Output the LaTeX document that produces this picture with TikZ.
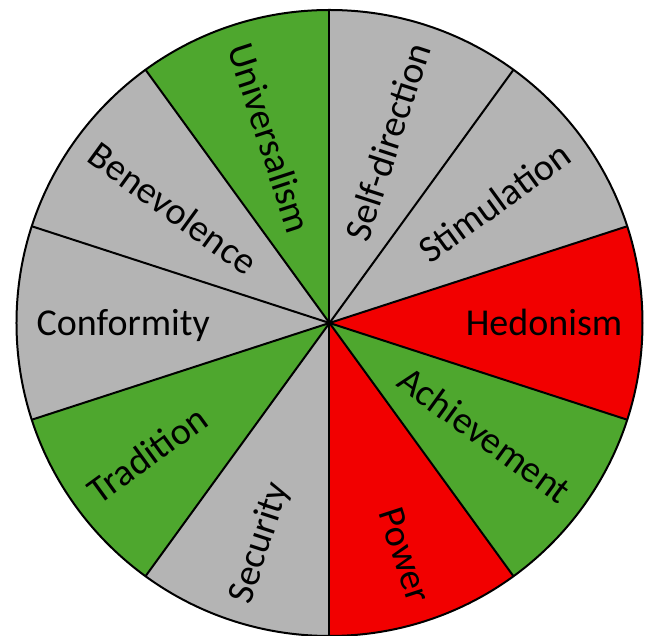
\documentclass[tikz,border=0pt]{standalone}
\usepackage{fontspec}
\setmainfont{Carlito}
\definecolor{sgray}{HTML}{B4B4B4}
\definecolor{sgreen}{HTML}{4EA72E}
\definecolor{sred}{HTML}{F20000}
\begin{document}
\begin{tikzpicture}[x=1pt,y=1pt,
  edge/.style={draw=black,line width=2pt,line cap=round},
  rim/.style={draw=black,line width=2pt},
  lbl/.style={font=\fontsize{38}{40}\selectfont, inner sep=0pt, text height=24.5pt, text depth=0pt}]
\useasboundingbox (-329.5,-313) rectangle (316.5,323);
\coordinate (c) at (0,0);
% sectors: mid angle / colour
\foreach \m/\col in {72/sgray,36/sgray,0/sred,-36/sgreen,-72/sred,-108/sgray,-144/sgreen,180/sgray,144/sgray,108/sgreen}{
  \fill[\col] (c) -- ({\m-18}:313) arc[start angle={\m-18}, end angle={\m+18}, radius=313] -- cycle;
}
% boundary rays
\foreach \a [count=\i] in {90,54,18,-18,-54,-90,-126,-162,162,126}{
  \coordinate (b\i) at (\a:313);
  \draw[edge] (c) -- (b\i);
}
\draw[rim] (c) circle[radius=313];
% labels on the right half: anchored at their outer (east) end
\foreach \m/\t/\n in {72/Self-direction/sd,36/Stimulation/st,0/Hedonism/he,-36/Achievement/ac,-72/Power/po}{
  \node[lbl, rotate=\m, anchor=east] (\n) at (\m:293) {\t};
}
% labels on the left half: anchored at their outer (west) end
\foreach \m/\t/\n in {-108/Security/se,-144/Tradition/tr,180/Conformity/co,144/Benevolence/be,108/Universalism/un}{
  \node[lbl, rotate={\m+180}, anchor=west] (\n) at (\m:293) {\t};
}
\end{tikzpicture}
\end{document}
